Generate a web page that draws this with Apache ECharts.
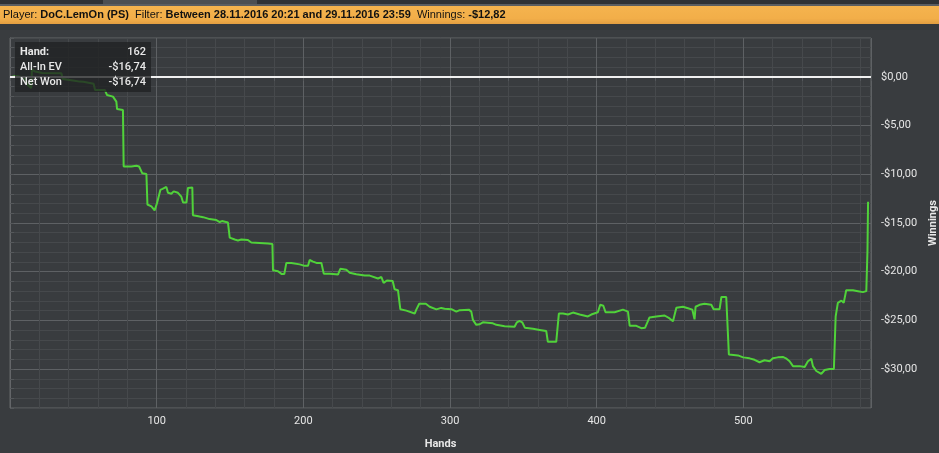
<!DOCTYPE html>
<html>
<head>
<meta charset="utf-8">
<script src="https://cdn.jsdelivr.net/npm/echarts@6/dist/echarts.min.js"></script>
<style>
html,body{margin:0;padding:0;background:#393c3f;}
#chart{width:939px;height:453px;}
</style>
</head>
<body>
<div id="chart"></div>
<script>
// ---- data ----
const hands = [1,5,10,12,14.4,15,17,22,35,36,44,47.5,50,57,57.7,58,64.6,66.1,70.2,72.5,73,77,77.5,82.7,86.2,88,90.2,93,93.7,96.4,98.6,100.2,102.5,104,106.6,107.7,110,111.6,114.5,116.8,118,120.3,121.3,124.3,124.7,129.3,131.6,133.9,136,140.7,141.8,143,144.5,148.6,149.8,153.2,155.4,157.7,162.2,164.5,175.9,177,178.9,179.3,182.7,185.3,187,188.4,191.8,197.5,200.9,203.2,204.3,206.6,208.9,212.3,213.9,218,222,223.6,225.2,229.3,231.6,236.1,241.8,245.2,250.9,253.2,254.7,257,260.9,262.2,264.5,266.1,270.2,271.3,275.9,277,279,283.5,286.1,290.7,294,296.3,300.9,304.3,306.6,312.8,314.5,315.6,317.9,320.2,322.4,329.2,331.6,337.2,344,345.6,347.4,349.2,351,356.5,361.1,365.6,366.7,372.4,374.2,377,380.4,383.8,388.4,394,396.3,400.8,402.4,404.5,406,412.2,417.9,421.3,422.5,427,430.4,433,436,440.6,446.3,449.7,452,454.3,458.8,462.2,465.2,466.7,467.4,470.1,473.5,478.1,479.7,483.8,485,488.3,490.1,496.3,499.8,504.2,507.6,511,514.4,515.6,517.9,520.1,523.5,526.9,529,531.5,533.8,538.4,541.8,544,546.3,547.4,549.7,553.1,554.2,555.4,558.8,561.7,562.9,564.4,566.8,568.4,570.1,574.7,578.1,581.5,583.8,584.3,584.6,585];
const netWon = [0,0.1,-0.1,-0.8,-1.15,0.8,0.55,0.4,0.38,-0.22,-0.38,-0.48,-0.5,-0.7,-0.85,-1.33,-1.33,-1.85,-2.02,-2.53,-3.3,-3.39,-9.2,-9.2,-9.12,-9.2,-9.9,-9.96,-13.1,-13.3,-13.7,-12.97,-11.6,-11.5,-11.3,-11.9,-12.0,-11.75,-11.9,-12.3,-12.9,-12.9,-11.4,-11.36,-14.2,-14.34,-14.4,-14.5,-14.6,-14.7,-14.85,-14.9,-14.8,-14.95,-16.5,-16.7,-16.8,-16.7,-16.74,-17.0,-17.1,-16.95,-17.15,-19.85,-19.95,-20.25,-20.25,-19.1,-19.1,-19.25,-19.4,-19.4,-18.8,-18.96,-19.1,-19.1,-20.2,-20.2,-20.26,-20.3,-19.7,-19.8,-20.1,-20.26,-20.4,-20.4,-20.7,-20.55,-21.15,-20.9,-20.95,-21.8,-21.9,-23.85,-24.0,-24.16,-24.3,-23.9,-23.3,-23.3,-23.6,-23.87,-23.72,-23.8,-23.85,-24.1,-23.95,-23.9,-24.1,-24.95,-25.46,-25.4,-25.2,-25.3,-25.46,-25.6,-25.65,-25.2,-25.05,-25.2,-25.75,-25.87,-25.98,-26.1,-27.2,-27.2,-24.3,-24.3,-24.4,-24.2,-24.4,-24.6,-24.4,-24.16,-23.4,-23.5,-24.16,-24.16,-23.9,-24.1,-25.56,-25.56,-25.8,-25.75,-24.7,-24.6,-24.5,-24.8,-25.1,-23.7,-23.6,-23.75,-23.9,-24.9,-23.6,-23.4,-23.3,-23.4,-23.85,-23.85,-22.6,-22.6,-28.5,-28.6,-28.8,-28.9,-29.05,-29.3,-29.1,-29.0,-29.2,-28.9,-28.8,-28.75,-28.9,-29.2,-29.7,-29.7,-29.8,-29.2,-28.95,-29.7,-30.2,-30.5,-30.6,-30.1,-30.0,-30.0,-24.6,-23.2,-22.97,-23.2,-21.9,-21.9,-22.0,-22.1,-22.0,-22.05,-17.8,-12.82];
const xLabelValues = [100,200,300,400,500];
const yLabelValues = [0,-5,-10,-15,-20,-25,-30];
const headerParts = [
  ['Player:', 'DoC.LemOn (PS)'],
  ['Filter:', 'Between 28.11.2016 20:21 and 29.11.2016 23:59'],
  ['Winnings:', '-$12,82']
];
const tipRows = [
  ['Hand:', '162'],
  ['All-In EV', '-$16,74'],
  ['Net Won', '-$16,74']
];

const seriesData = hands.map((h, i) => [h, netWon[i]]);
function money(v){
  const s = Math.abs(v).toFixed(2).replace('.', ',');
  return (v < 0 ? '-$' : '$') + s;
}

const chart = echarts.init(document.getElementById('chart'));
const MAJOR = '#5e6164', MINOR = '#46494c';

const headerText = headerParts.map(p => '{l|' + p[0] + '} {v|' + p[1] + '}').join('  ');

const graphics = [
  {type:'rect', shape:{x:0,y:0,width:939,height:4}, style:{fill:'#2f3235'}, silent:true},
  {type:'rect', shape:{x:103,y:0,width:154,height:4}, style:{fill:'#4c4f52'}, silent:true},
  {type:'rect', shape:{x:0,y:4,width:939,height:2}, style:{fill:'#5b5e61'}, silent:true},
  {type:'rect', shape:{x:0,y:6,width:939,height:18}, silent:true,
    style:{fill:new echarts.graphic.LinearGradient(0,0,0,1,[{offset:0,color:'#f5b44e'},{offset:0.7,color:'#f2ae49'},{offset:1,color:'#e19d40'}])}},
  {type:'rect', shape:{x:0,y:24,width:939,height:6}, style:{fill:'#35383b'}, silent:true},
  {type:'text', x:3, y:15, silent:true, style:{
    text: headerText, verticalAlign:'middle', fill:'#111',
    font:'11px "Liberation Sans"',
    rich:{ l:{font:'11px "Liberation Sans"', fill:'#111'}, v:{font:'bold 11px "Liberation Sans"', fill:'#111'} }
  }},
  {type:'rect', z:100, shape:{x:15,y:42,width:136,height:50}, style:{fill:'rgba(32,33,35,0.78)'}, silent:true}
];
tipRows.forEach((r, i) => {
  graphics.push({type:'text', z:101, x:20, y:52 + i*15, silent:true, style:{text:r[0], fill:'#e8e8e8', font:(i===0?'bold ':'500 ') + '11px Roboto', verticalAlign:'middle'}});
  graphics.push({type:'text', z:101, x:146, y:52 + i*15, silent:true, style:{text:r[1], fill:'#e8e8e8', font:'500 11px Roboto', align:'right', verticalAlign:'middle'}});
});

chart.setOption({
  backgroundColor:'#393c3f',
  animation:false,
  graphic: graphics,
  grid:{left:10, right:68, top:38, height:370, show:true, borderColor:'#646669', borderWidth:1,
        backgroundColor:'transparent', containLabel:false, outerBoundsMode:'none'},
  xAxis:{
    type:'value', min:0, max:587, interval:20,
    name:'Hands', nameLocation:'middle', nameGap:31,
    nameTextStyle:{color:'#e8e8e8', fontFamily:'Roboto', fontWeight:'bold', fontSize:11},
    axisLine:{show:true, lineStyle:{color:'#646669'}},
    axisTick:{show:true, length:4, lineStyle:{color:'#55585b'}},
    axisLabel:{color:'#e6e6e6', fontFamily:'Roboto', fontSize:11, margin:8,
      formatter: v => xLabelValues.indexOf(v) >= 0 ? String(v) : ''},
    splitLine:{show:true, lineStyle:{color:[MAJOR, MINOR, MINOR, MINOR, MINOR], width:1}}
  },
  yAxis:{
    type:'value', position:'right', min:-34, max:4, interval:1,
    name:'Winnings', nameLocation:'middle', nameGap:56, nameRotate:90,
    nameTextStyle:{color:'#e8e8e8', fontFamily:'Roboto', fontWeight:'bold', fontSize:11},
    axisLine:{show:true, lineStyle:{color:'#646669'}},
    axisTick:{show:true, length:4, lineStyle:{color:'#55585b'}},
    axisLabel:{color:'#e6e6e6', fontFamily:'Roboto', fontSize:11, margin:10,
      formatter: v => yLabelValues.indexOf(v) >= 0 ? money(v) : ''},
    splitLine:{show:true, lineStyle:{color:[MINOR, MINOR, MINOR, MINOR, MAJOR], width:1}}
  },
  series:[{
    type:'line', data:seriesData, showSymbol:false, symbol:'none',
    lineStyle:{color:'#50d23a', width:2}, clip:true,
    markLine:{silent:true, symbol:'none', label:{show:false},
      lineStyle:{color:'#f0f0f0', width:2, type:'solid'},
      data:[{yAxis:0}]}
  }]
});
</script>
</body>
</html>
